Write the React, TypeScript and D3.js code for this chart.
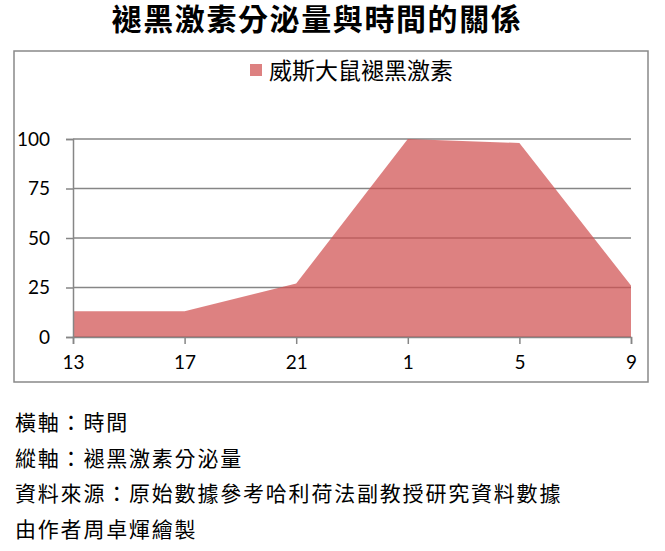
import React, { useEffect, useRef } from 'react';
import * as d3 from 'd3';

// 資料
const hours = ['13', '17', '21', '1', '5', '9'];
const melatonin = [13, 13, 27, 100, 98, 26];
const yTicks = [0, 25, 50, 75, 100];
const seriesName = '威斯大鼠褪黑激素';
const title = '褪黑激素分泌量與時間的關係';
const notes = [
  '橫軸：時間',
  '縱軸：褪黑激素分泌量',
  '資料來源：原始數據參考哈利荷法副教授研究資料數據',
  '由作者周卓煇繪製',
];

const W = 665;
const H = 551;
const cjk = '"Noto Sans CJK TC", "Noto Sans CJK SC", sans-serif';
const num = 'Lato, "Liberation Sans", sans-serif';

const App: React.FC = () => {
  const svgRef = useRef<SVGSVGElement>(null);

  useEffect(() => {
    if (!svgRef.current) return;
    const svg = d3.select(svgRef.current);
    svg.selectAll('*').remove();

    const plot = { left: 73, right: 631, top: 139, bottom: 337 };

    const x = d3.scalePoint<string>()
      .domain(hours)
      .range([plot.left, plot.right]);

    const y = d3.scaleLinear()
      .domain([0, 100])
      .range([plot.bottom, plot.top]);

    // title
    svg.append('text')
      .attr('x', 317)
      .attr('y', 30)
      .attr('text-anchor', 'middle')
      .attr('font-family', cjk)
      .attr('font-weight', 'bold')
      .attr('font-size', 30)
      .attr('letter-spacing', 1.6)
      .attr('fill', '#000')
      .text(title);

    // chart frame
    svg.append('rect')
      .attr('x', 14)
      .attr('y', 51)
      .attr('width', 634)
      .attr('height', 331)
      .attr('fill', '#fff')
      .attr('stroke', '#898989')
      .attr('stroke-width', 1.5);

    // gridlines
    svg.append('g')
      .selectAll('line')
      .data(yTicks)
      .enter()
      .append('line')
      .attr('x1', plot.left)
      .attr('x2', plot.right)
      .attr('y1', d => y(d))
      .attr('y2', d => y(d))
      .attr('stroke', '#868686')
      .attr('stroke-width', 1.5);

    // area
    const area = d3.area<number>()
      .x((_, i) => x(hours[i])!)
      .y0(y(0))
      .y1(d => y(d));

    svg.append('path')
      .datum(melatonin)
      .attr('d', area)
      .attr('fill', '#D05050')
      .attr('fill-opacity', 0.72);

    // y axis
    const yAxis = svg.append('g')
      .attr('transform', `translate(${plot.left},0)`)
      .call(d3.axisLeft(y).tickValues(yTicks).tickSize(7).tickPadding(16).tickFormat(d => String(d)));
    yAxis.select('.domain').attr('stroke', '#868686').attr('stroke-width', 1.5);
    yAxis.selectAll('.tick line').attr('stroke', '#868686').attr('stroke-width', 1.5);
    yAxis.selectAll('.tick text')
      .attr('font-family', num)
      .attr('font-size', 19)
      .attr('fill', '#000');

    // x axis
    const xAxis = svg.append('g')
      .attr('transform', `translate(0,${plot.bottom})`)
      .call(d3.axisBottom(x).tickSize(7).tickPadding(12));
    xAxis.select('.domain').attr('stroke', '#868686').attr('stroke-width', 1.5);
    xAxis.selectAll('.tick line').attr('stroke', '#868686').attr('stroke-width', 1.5);
    xAxis.selectAll('.tick text')
      .attr('font-family', num)
      .attr('font-size', 19)
      .attr('fill', '#000');

    // legend
    const legend = svg.append('g').attr('transform', 'translate(250,64)');
    legend.append('rect')
      .attr('width', 12)
      .attr('height', 12)
      .attr('fill', '#D05050')
      .attr('fill-opacity', 0.72);
    legend.append('text')
      .attr('x', 19)
      .attr('y', 15)
      .attr('font-family', cjk)
      .attr('font-size', 23)
      .attr('fill', '#000')
      .text(seriesName);

    // notes below the chart
    svg.append('g')
      .selectAll('text')
      .data(notes)
      .enter()
      .append('text')
      .attr('x', 15)
      .attr('y', (_, i) => 430 + i * 35.5)
      .attr('font-family', cjk)
      .attr('font-size', 21)
      .attr('letter-spacing', 1.8)
      .attr('fill', '#000')
      .text(d => d);
  }, []);

  return (
    <svg
      ref={svgRef}
      width={W}
      height={H}
      style={{ position: 'absolute', left: 0, top: 0, background: '#fff' }}
    />
  );
};

export default App;
